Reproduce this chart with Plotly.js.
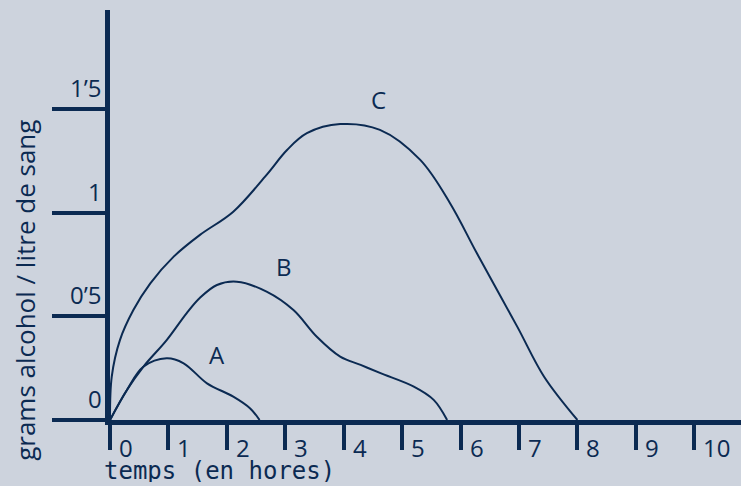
<!DOCTYPE html>
<html>
<head>
<meta charset="utf-8">
<script src="https://cdn.plot.ly/plotly-3.0.1.min.js"></script>
<style>
  html, body { margin: 0; padding: 0; background: #cdd3dd; }
  #chart { width: 741px; height: 486px; }
</style>
</head>
<body>
<div id="chart"></div>
<script>
// blood alcohol curves A, B, C (hours vs g/l)
const hoursA = [0, 0.29, 0.57, 0.97, 1.26, 1.66, 2.11, 2.40, 2.56];
const alcA   = [0, 0.145, 0.257, 0.298, 0.274, 0.177, 0.113, 0.056, 0];

const hoursB = [0, 0.29, 0.57, 0.97, 1.31, 1.54, 1.83, 2.17, 2.68, 3.14, 3.54, 3.94, 4.29, 4.63, 5.2, 5.54, 5.77];
const alcB   = [0, 0.145, 0.257, 0.386, 0.515, 0.59, 0.652, 0.668, 0.62, 0.531, 0.402, 0.306, 0.266, 0.226, 0.161, 0.097, 0];

const hoursC = [0, 0.03, 0.17, 0.40, 0.69, 1.09, 1.54, 2.11, 2.68, 3.03, 3.37, 3.94, 4.62, 5.31, 5.82, 6.28, 6.97, 7.43, 8.0];
const alcC   = [0, 0.21, 0.386, 0.531, 0.66, 0.789, 0.894, 1.006, 1.184, 1.304, 1.385, 1.429, 1.401, 1.256, 1.047, 0.805, 0.451, 0.209, 0];

const curveNames = ['A', 'B', 'C'];
const nameX = [1.83, 2.98, 4.59];
const nameY = [0.314, 0.739, 1.546];

const xTicks = [0, 1, 2, 3, 4, 5, 6, 7, 8, 9, 10];
const yTicks = [0, 0.5, 1, 1.5];
const yTickText = ['0', '0’5', '1', '1’5'];

const NAVY = '#0b2a52';
const BG = '#cdd3dd';
const SANS = 'Open Sans, sans-serif';

const curve = (x, y) => ({
  x, y, type: 'scatter', mode: 'lines',
  line: { color: NAVY, width: 2, shape: 'spline', smoothing: 1 },
  hoverinfo: 'skip', showlegend: false,
});

const traces = [curve(hoursA, alcA), curve(hoursB, alcB), curve(hoursC, alcC)];

const annotations = [];
curveNames.forEach((n, i) => annotations.push({
  text: n, x: nameX[i], y: nameY[i], xref: 'x', yref: 'y', showarrow: false,
  font: { family: SANS, size: 24, color: NAVY },
}));
xTicks.forEach(v => annotations.push({
  text: String(v), x: v, y: 0, xref: 'x', yref: 'y', showarrow: false,
  xanchor: 'left', yanchor: 'top', xshift: 7, yshift: -14, height: 22,
  font: { family: SANS, size: 24, color: NAVY },
}));
yTicks.forEach((v, i) => annotations.push({
  text: yTickText[i], x: 0, y: v, xref: 'x', yref: 'y', showarrow: false,
  xanchor: 'right', yanchor: 'bottom', xshift: -6, yshift: 3,
  font: { family: SANS, size: 24, color: NAVY },
}));
annotations.push({
  text: 'temps (en hores)', x: -0.013, y: -0.125, xref: 'paper', yref: 'paper',
  xanchor: 'left', yanchor: 'middle', showarrow: false, height: 22,
  font: { family: 'DejaVu Sans Mono, monospace', size: 24, color: NAVY },
});
annotations.push({
  text: 'grams alcohol / litre de sang', x: -0.135, y: 0.317, xref: 'paper', yref: 'paper',
  xanchor: 'center', yanchor: 'middle', textangle: -90, showarrow: false,
  font: { family: SANS, size: 26, color: NAVY },
});

const layout = {
  width: 741, height: 486,
  paper_bgcolor: BG, plot_bgcolor: BG,
  margin: { l: 110, r: 0, t: 10, b: 66 },
  xaxis: {
    range: [0, 10.8], showgrid: false, zeroline: false,
    showline: true, linewidth: 5, linecolor: NAVY,
    tickmode: 'array', tickvals: xTicks, showticklabels: false,
    ticks: 'outside', ticklen: 25, tickwidth: 4, tickcolor: NAVY,
  },
  yaxis: {
    range: [0, 1.98], showgrid: false, zeroline: false,
    showline: true, linewidth: 5, linecolor: NAVY,
    tickmode: 'array', tickvals: yTicks, showticklabels: false,
    ticks: 'outside', ticklen: 53, tickwidth: 4, tickcolor: NAVY,
  },
  annotations,
};

Plotly.newPlot('chart', traces, layout, { staticPlot: true, displayModeBar: false });
</script>
</body>
</html>
